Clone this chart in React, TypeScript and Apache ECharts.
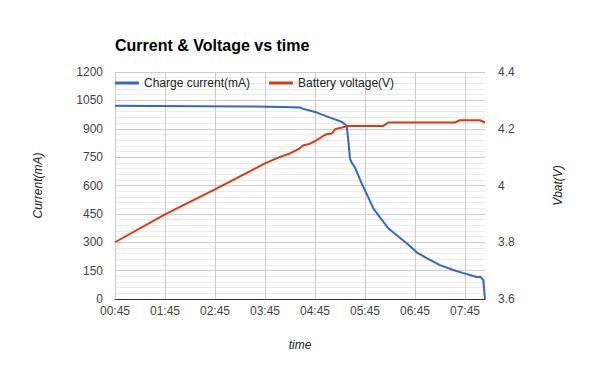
import React, { useEffect, useRef } from "react";
import * as echarts from "echarts";

// Time is given in minutes elapsed since 00:45
const START_MINUTES = 45;
const xTickInterval = 60;
const xMax = 444;

const currentTimes = [0, 45, 160, 200, 222, 226, 240, 258, 272, 278, 280, 282, 284, 288, 296, 304, 310, 318, 328, 338, 350, 362, 374, 390, 406, 418, 434, 439, 442, 444];
const currentValues = [1021, 1020, 1018, 1015, 1012, 1005, 989, 959, 937, 916, 837, 742, 721, 695, 611, 537, 479, 432, 374, 337, 295, 247, 216, 179, 153, 137, 116, 116, 100, 0];

const voltageTimes = [0, 60, 120, 180, 198, 210, 220, 226, 232, 240, 248, 254, 260, 264, 270, 274, 278, 322, 328, 408, 414, 438, 444];
const voltageValues = [3.8, 3.898, 3.986, 4.078, 4.101, 4.113, 4.128, 4.142, 4.145, 4.156, 4.171, 4.181, 4.183, 4.198, 4.203, 4.205, 4.21, 4.21, 4.222, 4.222, 4.23, 4.23, 4.222];

const FONT = "'Liberation Sans', Arial, sans-serif";

function fmtClock(v: number): string {
  const t = Math.round(v) + START_MINUTES;
  const h = Math.floor(t / 60);
  const m = t % 60;
  return String(h).padStart(2, "0") + ":" + String(m).padStart(2, "0");
}

export default function App() {
  const ref = useRef<HTMLDivElement>(null);
  useEffect(() => {
    if (!ref.current) return;
    const chart = echarts.init(ref.current, null, { renderer: "svg" });
    chart.setOption({
      animation: false,
      backgroundColor: "#ffffff",
      title: {
        text: "Current & Voltage vs time",
        left: 115,
        top: 37,
        padding: 0,
        textStyle: { fontFamily: FONT, fontSize: 16, fontWeight: "bold", color: "#000" },
      },
      legend: {
        left: 115,
        top: 77,
        padding: 0,
        itemGap: 19,
        itemWidth: 24,
        itemHeight: 3,
        icon: "rect",
        textStyle: { fontFamily: FONT, fontSize: 12, color: "#222" },
        data: ["Charge current(mA)", "Battery voltage(V)"],
      },
      grid: { left: 115, right: 115, top: 72, bottom: 72, containLabel: false },
      xAxis: {
        type: "value",
        min: 0,
        max: xMax,
        interval: xTickInterval,
        name: "time",
        nameLocation: "middle",
        nameGap: 40,
        nameTextStyle: { fontFamily: FONT, fontSize: 12, fontStyle: "italic", color: "#222" },
        axisLine: { show: true, lineStyle: { color: "#333", width: 1 } },
        axisTick: { show: false },
        axisLabel: {
          margin: 6,
          fontFamily: FONT,
          fontSize: 12,
          color: "#444",
          showMaxLabel: false,
          formatter: (v: number) => fmtClock(v),
        },
        splitLine: { show: true, showMaxLine: false, lineStyle: { color: "#cccccc", width: 1 } },
      },
      yAxis: [
        {
          type: "value",
          min: 0,
          max: 1200,
          interval: 150,
          position: "left",
          name: "Current(mA)",
          nameLocation: "middle",
          nameRotate: 90,
          nameGap: 71,
          nameTextStyle: { fontFamily: FONT, fontSize: 12, fontStyle: "italic", color: "#222" },
          axisLine: { show: false },
          axisTick: { show: false },
          axisLabel: {
            margin: 12,
            fontFamily: FONT,
            fontSize: 12,
            color: "#444",
            formatter: (v: number) => String(Math.round(v)),
          },
          splitLine: { show: true, lineStyle: { color: "#cccccc", width: 1 } },
          minorTick: { show: false, splitNumber: 5 },
          minorSplitLine: { show: true, lineStyle: { color: "#ebebeb", width: 1 } },
        },
        {
          type: "value",
          min: 3.6,
          max: 4.4,
          interval: 0.2,
          position: "right",
          name: "Vbat(V)",
          nameLocation: "middle",
          nameRotate: 90,
          nameGap: 67,
          nameTextStyle: { fontFamily: FONT, fontSize: 12, fontStyle: "italic", color: "#222" },
          axisLine: { show: false },
          axisTick: { show: false },
          axisLabel: {
            margin: 13,
            fontFamily: FONT,
            fontSize: 12,
            color: "#444",
            formatter: (v: number) => String(parseFloat(v.toFixed(1))),
          },
          splitLine: { show: false },
        },
      ],
      series: [
        {
          name: "Charge current(mA)",
          type: "line",
          yAxisIndex: 0,
          showSymbol: false,
          symbol: "none",
          color: "#3366cc",
          lineStyle: { color: "#3366cc", width: 2 },
          data: currentTimes.map((t, i) => [t, currentValues[i]]),
        },
        {
          name: "Battery voltage(V)",
          type: "line",
          yAxisIndex: 1,
          showSymbol: false,
          symbol: "none",
          color: "#dc3912",
          lineStyle: { color: "#dc3912", width: 2 },
          data: voltageTimes.map((t, i) => [t, voltageValues[i]]),
        },
      ],
    });
    return () => chart.dispose();
  }, []);
  return <div ref={ref} style={{ width: 600, height: 371, position: "absolute", left: 0, top: 0 }} />;
}
